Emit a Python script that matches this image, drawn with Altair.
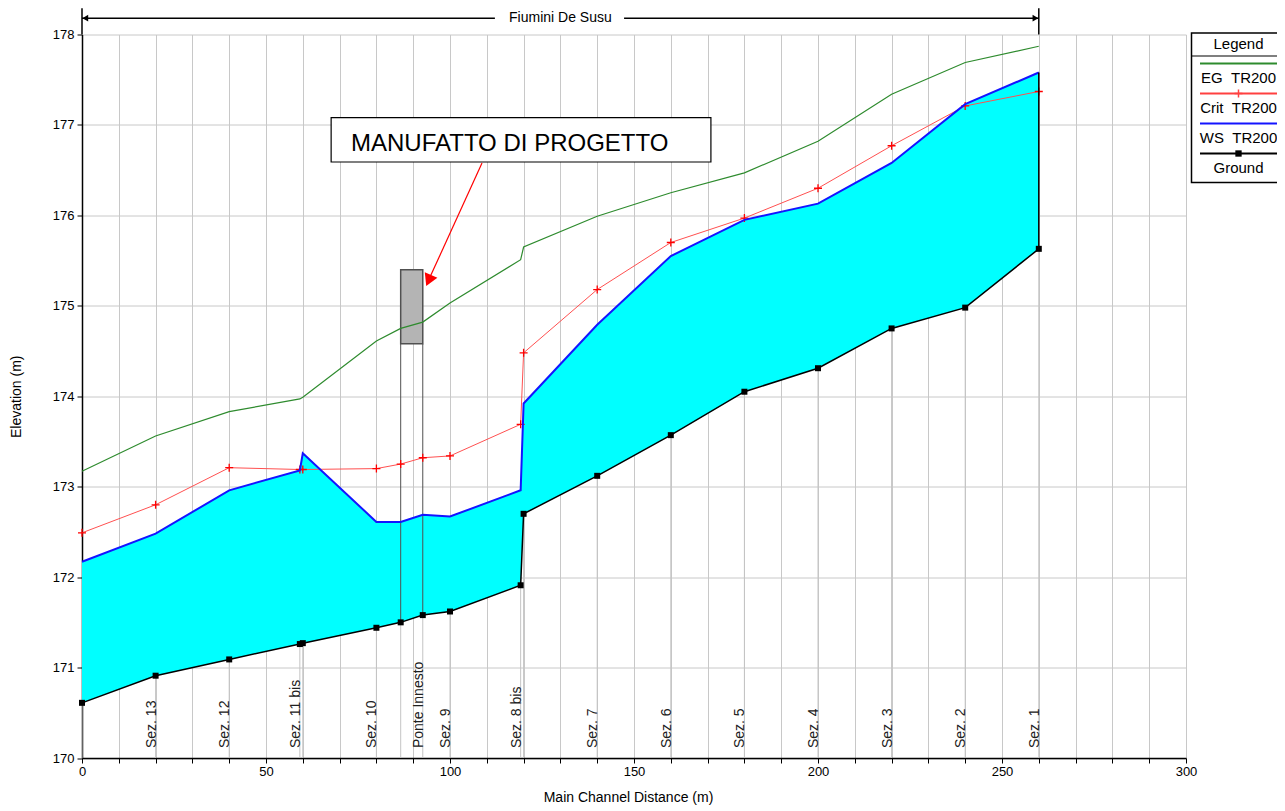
import altair as alt
import pandas as pd

# ---------------- data ----------------
stations = [0, 20, 40, 59.2, 60, 80, 86.6, 92.6, 100, 119.2, 120, 140, 160, 180, 200, 220, 240, 260]
ground = [170.61, 170.91, 171.09, 171.26, 171.27, 171.44, 171.50, 171.58, 171.62, 171.91, 172.70,
          173.12, 173.57, 174.05, 174.31, 174.75, 174.98, 175.63]
ws = [172.17, 172.48, 172.96, 173.18, 173.37, 172.61, 172.61, 172.69, 172.67, 172.96, 173.92,
      174.79, 175.55, 175.95, 176.13, 176.58, 177.23, 177.58]
crit = [172.49, 172.80, 173.21, 173.19, 173.19, 173.20, 173.25, 173.32, 173.34, 173.69, 174.48,
        175.18, 175.70, 175.97, 176.30, 176.77, 177.21, 177.37]
eg = [173.17, 173.56, 173.83, 173.97, 173.99, 174.61, 174.75, 174.82, 175.03, 175.51, 175.65,
      175.99, 176.25, 176.47, 176.82, 177.34, 177.69, 177.87]
section_names = ["", "Sez. 13", "Sez. 12", "Sez. 11 bis", "", "Sez. 10", "", "Ponte Innesto", "Sez. 9",
                 "Sez. 8 bis", "", "Sez. 7", "Sez. 6", "Sez. 5", "Sez. 4", "Sez. 3", "Sez. 2", "Sez. 1"]

bridge_stations = [86.6, 92.6]
deck_low, deck_high = 174.58, 175.40

reach_name = "Fiumini De Susu"
reach_start, reach_end = 0, 260

note_text = "MANUFATTO DI PROGETTO"

legend_labels = ["EG \u00a0TR200", "Crit \u00a0TR200", "WS \u00a0TR200", "Ground"]
legend_colors = ["#2e8b2e", "#ff4040", "#1414ff", "#000000"]
legend_markers = ["", "plus", "", "square"]

x_ticks = list(range(0, 301, 10))
y_ticks = [170 + 0.5 * i for i in range(17)]

# ---------------- tables ----------------
df = pd.DataFrame({"station": stations, "ground": ground, "ws": ws, "crit": crit, "eg": eg,
                   "name": section_names})
df["base"] = 170.0
df["laby"] = 170.11
labels_df = df[df["name"] != ""]
bridge_df = df[df["station"].isin(bridge_stations)].assign(deck=deck_low)
deck_df = pd.DataFrame({"x0": [bridge_stations[0]], "x1": [bridge_stations[1]],
                        "lo": [deck_low], "hi": [deck_high]})
reach_y = 178.18
reach_mid = (reach_start + reach_end) / 2
reach_lines = pd.DataFrame({"a": [reach_start, reach_mid + 17.3], "b": [reach_mid - 17.8, reach_end],
                            "y": [reach_y, reach_y]})
reach_text = pd.DataFrame({"x": [reach_mid], "y": [reach_y], "t": [reach_name]})
reach_marks = pd.DataFrame({"x": [reach_start, reach_end], "y0": [178.0, 178.0], "y1": [178.29, 178.29]})
end_df = df[df["station"] == reach_end]

xs = alt.Scale(domain=[0, 300], nice=False, zero=False)
ys = alt.Scale(domain=[170, 178], nice=False, zero=False)

FONT = "Liberation Sans"
XTITLE = "Main Channel Distance (m)"
YTITLE = "Elevation (m)"

xaxis = alt.Axis(values=x_ticks, format="d",
                 labelExpr="datum.value % 50 === 0 ? datum.label : ''",
                 title=XTITLE, grid=True, gridColor="#c8c8c8", gridWidth=1,
                 domainColor="#000000", domainWidth=1.5, tickColor="#000000", tickSize=5,
                 labelFontSize=13, labelColor="#000000", labelPadding=2, labelFlush=False,
                 labelOverlap=False, titleFontSize=14, titleFontWeight="normal", titleColor="#000000",
                 titleX=546, titleY=39, titleBaseline="middle", titleAlign="center",
                 labelFont=FONT, titleFont=FONT)
yaxis = alt.Axis(values=y_ticks, format="d",
                 labelExpr="datum.value % 1 === 0 ? datum.label : ''",
                 title=YTITLE, grid=True, gridColor="#c8c8c8", gridWidth=1,
                 domainColor="#000000", domainWidth=1.5, tickColor="#000000", tickSize=5,
                 labelFontSize=13, labelColor="#000000", labelPadding=3, labelOverlap=False,
                 titleFontSize=14, titleFontWeight="normal", titleColor="#000000",
                 titleX=-66, titleY=361.75, titleAngle=270, titleAlign="center",
                 titleBaseline="middle", labelFont=FONT, titleFont=FONT)


def X(f):
    return alt.X(f, type="quantitative", scale=xs, axis=xaxis, title=XTITLE)


def Y(f):
    return alt.Y(f, type="quantitative", scale=ys, axis=yaxis, title=YTITLE)


layers = []

# water area
layers.append(alt.Chart(df).mark_area(color="#00ffff", opacity=1).encode(
    x=X("station"), y=Y("ws"), y2="ground:Q"))

# section lines below ground
layers.append(alt.Chart(df).mark_rule(color="#c4c4c4", strokeWidth=1).encode(
    x=X("station"), y=Y("base"), y2="ground:Q"))

# bridge lines
layers.append(alt.Chart(bridge_df).mark_rule(color="#505050", strokeWidth=1).encode(
    x=X("station"), y=Y("ground"), y2="deck:Q"))

# bridge deck
layers.append(alt.Chart(deck_df).mark_rect(fill="#b4b4b4", stroke="#505050", strokeWidth=1.5).encode(
    x=X("x0"), x2="x1:Q", y=Y("lo"), y2="hi:Q"))

# EG line
layers.append(alt.Chart(df).mark_line(color="#2e8b2e", strokeWidth=1.2).encode(
    x=X("station"), y=Y("eg"), order="station:Q"))

# Crit line + markers
layers.append(alt.Chart(df).mark_line(color="#ff5050", strokeWidth=1).encode(
    x=X("station"), y=Y("crit"), order="station:Q"))
layers.append(alt.Chart(df).mark_point(shape="M-1,0H1M0,-1V1", filled=False, color="#ff0000",
                                       size=64, strokeWidth=1.3, opacity=1).encode(
    x=X("station"), y=Y("crit")))

# WS line
layers.append(alt.Chart(df).mark_line(color="#1414ff", strokeWidth=2).encode(
    x=X("station"), y=Y("ws"), order="station:Q"))

# right closing edge
layers.append(alt.Chart(end_df).mark_rule(color="#000000", strokeWidth=1.5).encode(
    x=X("station"), y=Y("ground"), y2="ws:Q"))

# Ground line + markers
layers.append(alt.Chart(df).mark_line(color="#000000", strokeWidth=1.5).encode(
    x=X("station"), y=Y("ground"), order="station:Q"))
layers.append(alt.Chart(df).mark_point(shape="square", filled=True, color="#000000", size=36,
                                       opacity=1).encode(
    x=X("station"), y=Y("ground")))

# section labels
layers.append(alt.Chart(labels_df).mark_text(angle=270, align="left", baseline="alphabetic",
                                              fontSize=14, font=FONT, color="#202020").encode(
    x=X("station"), y=Y("laby"), text="name:N"))

# reach line on top
layers.append(alt.Chart(reach_lines).mark_rule(color="#000000", strokeWidth=1.5).encode(
    x=X("a"), x2="b:Q", y=Y("y")))
layers.append(alt.Chart(reach_marks).mark_rule(color="#000000", strokeWidth=1.5).encode(
    x=X("x"), y=Y("y0"), y2="y1:Q"))
layers.append(alt.Chart(pd.DataFrame({"x": [reach_start + 0.9], "y": [reach_y]})).mark_point(
    shape="triangle-left", filled=True, color="#000000", size=45, opacity=1).encode(
    x=X("x"), y=Y("y")))
layers.append(alt.Chart(pd.DataFrame({"x": [reach_end - 0.9], "y": [reach_y]})).mark_point(
    shape="triangle-right", filled=True, color="#000000", size=45, opacity=1).encode(
    x=X("x"), y=Y("y")))
layers.append(alt.Chart(reach_text).mark_text(fontSize=14, font=FONT, color="#000000",
                                              baseline="middle", align="center").encode(
    x=X("x"), y=Y("y"), text="t:N"))

# annotation box
note_box = pd.DataFrame({"x0": [67.7], "x1": [170.9], "y0": [176.59], "y1": [177.08]})
layers.append(alt.Chart(note_box).mark_rect(fill="#ffffff", stroke="#000000", strokeWidth=1.2).encode(
    x=X("x0"), x2="x1:Q", y=Y("y0"), y2="y1:Q"))
layers.append(alt.Chart(pd.DataFrame({"x": [73.1], "y": [176.712], "t": [note_text]})).mark_text(
    fontSize=24, font=FONT, color="#000000", align="left", baseline="alphabetic").encode(
    x=X("x"), y=Y("y"), text="t:N"))
layers.append(alt.Chart(pd.DataFrame({"x": [108.7], "y": [176.58], "xb": [94.6], "yb": [175.32]})).mark_rule(
    color="#ff0000", strokeWidth=1.2).encode(x=X("x"), x2="xb:Q", y=Y("y"), y2="yb:Q"))
layers.append(alt.Chart(pd.DataFrame({"x": [94.2], "y": [175.28]})).mark_point(
    shape="triangle-up", angle=204, filled=True, color="#ff0000", size=190, opacity=1).encode(
    x=X("x"), y=Y("y")))

# custom legend (pixel positions relative to the plot area)
LX0, LX1 = 1109.5, 1225
leg_box = pd.DataFrame({"px0": [LX0], "px1": [LX1], "py0": [-1.5], "py1": [148.0], "ph": [21.5]})
layers.append(alt.Chart(leg_box).mark_rect(fill="#ffffff", stroke="#000000", strokeWidth=1.5).encode(
    x=alt.X("px0:Q", scale=None), x2="px1:Q", y=alt.Y("py0:Q", scale=None), y2="py1:Q"))
layers.append(alt.Chart(leg_box).mark_rule(color="#000000", strokeWidth=1.2).encode(
    x=alt.X("px0:Q", scale=None), x2="px1:Q", y=alt.Y("ph:Q", scale=None)))

leg_rows = []
for i, (lab, col, mk) in enumerate(zip(legend_labels, legend_colors, legend_markers)):
    yl = 29 + 30 * i
    leg_rows.append({"lab": lab, "col": col, "mk": mk, "yl": yl, "yt": yl + 14.5,
                     "xa": 1118, "xb": 1197, "xm": 1156.5})
leg_df = pd.DataFrame(leg_rows)
leg_title = pd.DataFrame({"x": [1156.5], "y": [9.5], "t": ["Legend"]})
layers.append(alt.Chart(leg_title).mark_text(fontSize=15, font=FONT, color="#000000", align="center",
                                             baseline="middle").encode(
    x=alt.X("x:Q", scale=None), y=alt.Y("y:Q", scale=None), text="t:N"))
layers.append(alt.Chart(leg_df).mark_rule(strokeWidth=2).encode(
    x=alt.X("xa:Q", scale=None), x2="xb:Q", y=alt.Y("yl:Q", scale=None),
    color=alt.Color("col:N", scale=None)))
layers.append(alt.Chart(leg_df[leg_df["mk"] == "plus"]).mark_point(
    shape="M-1,0H1M0,-1V1", filled=False, size=64, strokeWidth=1.5, opacity=1).encode(
    x=alt.X("xm:Q", scale=None), y=alt.Y("yl:Q", scale=None), color=alt.Color("col:N", scale=None)))
layers.append(alt.Chart(leg_df[leg_df["mk"] == "square"]).mark_point(
    shape="square", filled=True, size=40, opacity=1).encode(
    x=alt.X("xm:Q", scale=None), y=alt.Y("yl:Q", scale=None), color=alt.Color("col:N", scale=None)))
layers.append(alt.Chart(leg_df).mark_text(fontSize=15, font=FONT, color="#000000", align="center",
                                          baseline="middle").encode(
    x=alt.X("xm:Q", scale=None), y=alt.Y("yt:Q", scale=None), text="lab:N"))

chart = alt.layer(*layers).properties(
    width=1104, height=723.5,
    padding={"left": 74, "top": 26.5, "right": 91, "bottom": 48},
    autosize=alt.AutoSizeParams(type="none"),
    background="#ffffff",
).configure(font=FONT).configure_view(strokeWidth=0)

chart.save("out.html", embed_options={"renderer": "svg", "actions": False})
